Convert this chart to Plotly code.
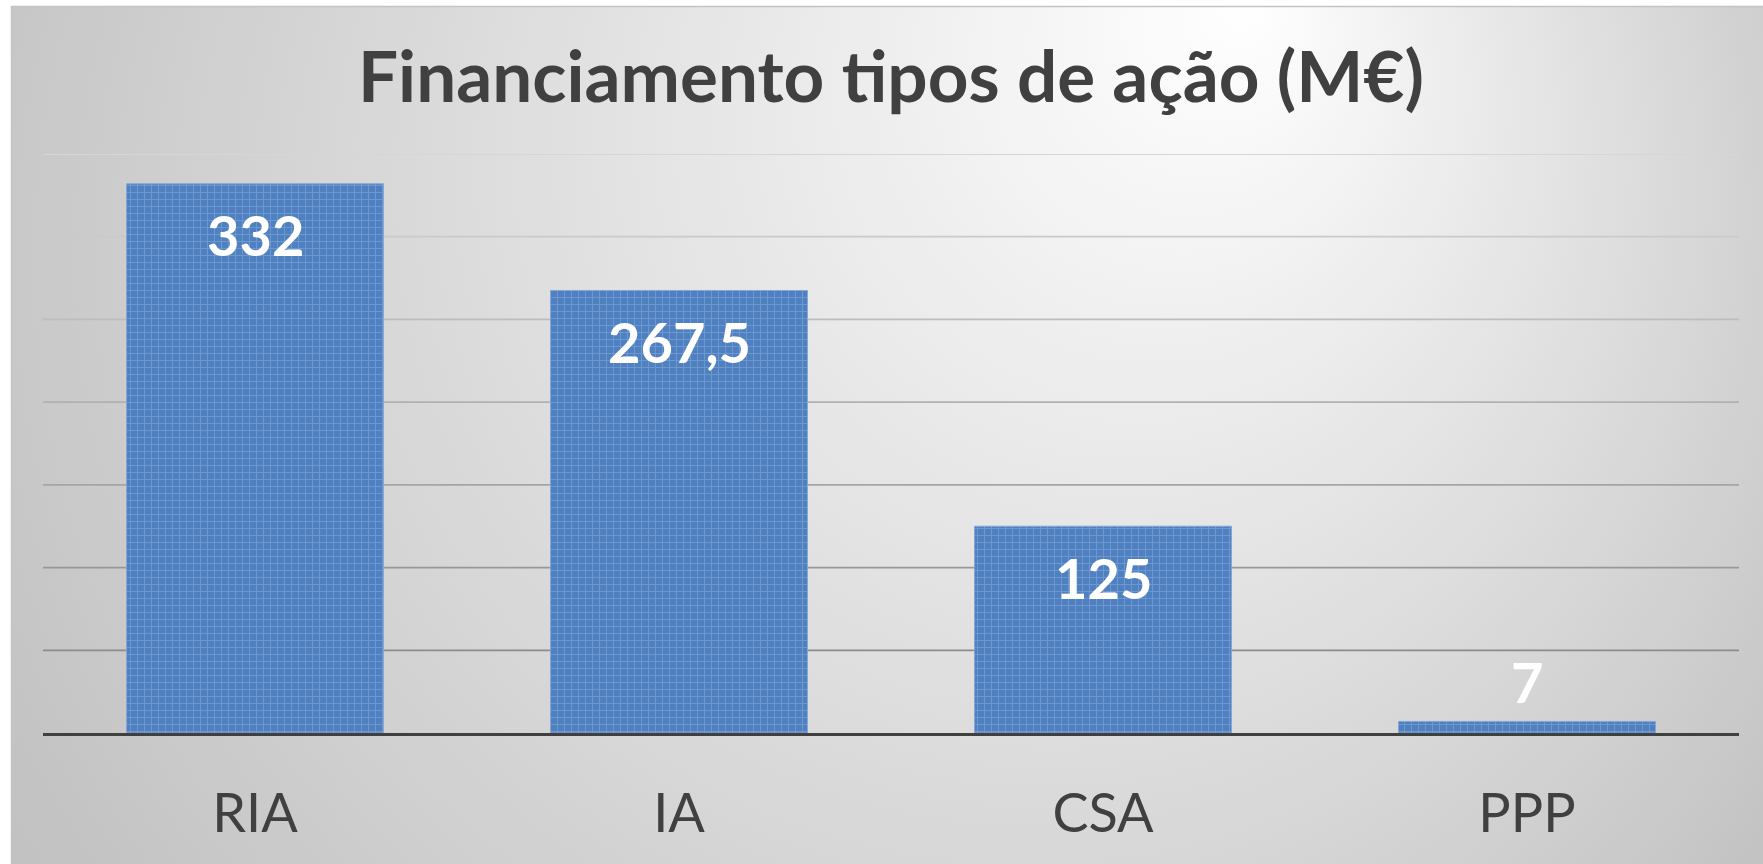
import base64
import plotly.graph_objects as go

# ---- data ----
categories = ["RIA", "IA", "CSA", "PPP"]
values = [332, 267.5, 125, 7]
value_labels = ["332", "267,5", "125", "7"]
title_text = "Financiamento tipos de ação (M€)"
y_range = [0, 350]
y_dtick = 50

W, H = 1763, 864
M_L, M_R, M_T, M_B = 43, 24, 154, 131
FONT = "Lato"
DARK = "#404040"

# ---- background (gradient chart area) as an SVG image ----
svg = f'''<svg xmlns="http://www.w3.org/2000/svg" width="{W}" height="{H}" viewBox="0 0 {W} {H}" preserveAspectRatio="none">
<defs><radialGradient id="g" gradientUnits="userSpaceOnUse" cx="900" cy="300" r="1050" fx="1250" fy="0">
<stop offset="0" stop-color="#ffffff"/><stop offset="0.25" stop-color="#efefef"/><stop offset="1" stop-color="#c1c1c1"/>
</radialGradient></defs>
<rect x="0" y="0" width="{W}" height="{H}" fill="#ffffff"/>
<rect x="11.5" y="6.5" width="{W}" height="{H}" fill="url(#g)" stroke="#c4c4c4" stroke-width="1.5"/>
</svg>'''
svg_uri = "data:image/svg+xml;base64," + base64.b64encode(svg.encode()).decode()

plot_w = W - M_L - M_R
plot_h = H - M_T - M_B

fig = go.Figure()
fig.add_trace(go.Bar(
    x=categories, y=values,
    marker=dict(
        color="#4f80bf",
        line=dict(color="#86a6d6", width=1),
        pattern=dict(shape="+", fgcolor="#8fb1df", size=7, solidity=0.25, fillmode="overlay"),
    ),
    width=0.606,
    hoverinfo="skip",
    showlegend=False,
))

# gridlines with colour fading from light (top) to darker (bottom)
grid_vals = list(range(y_dtick, y_range[1] + 1, y_dtick))
top_c, bot_c = (0xd6, 0xd6, 0xd6), (0x8c, 0x8c, 0x8c)
n = len(grid_vals)
for i, gv in enumerate(grid_vals):
    t = i / (n - 1)  # 0 at bottom-most gridline, 1 at top
    c = tuple(round(bot_c[k] + (top_c[k] - bot_c[k]) * t) for k in range(3))
    fig.add_shape(type="line", xref="paper", yref="y", x0=0, x1=1, y0=gv, y1=gv,
                  line=dict(color="rgb(%d,%d,%d)" % c, width=1.8), layer="below")

# value labels
for cat, v, lab in zip(categories, values, value_labels):
    inside = v > 50
    fig.add_annotation(
        x=cat, y=v, text=lab, showarrow=False,
        yanchor="middle", yshift=-51 if inside else 40,
        font=dict(family=FONT, size=56, color="#ffffff", weight="bold"),
    )

fig.update_layout(
    width=W, height=H,
    margin=dict(l=M_L, r=M_R, t=M_T, b=M_B, pad=0, autoexpand=False),
    paper_bgcolor="#ffffff",
    plot_bgcolor="rgba(0,0,0,0)",
    title=dict(
        text=title_text, x=0.5, xref="paper", xanchor="center",
        y=1 - 77 / H, yref="container", yanchor="middle",
        font=dict(family=FONT, size=71, color=DARK, weight="bold"),
    ),
    bargap=0.394,
    images=[dict(source=svg_uri, xref="paper", yref="paper",
                 x=-M_L / plot_w, y=1 + M_T / plot_h,
                 sizex=W / plot_w, sizey=H / plot_h,
                 xanchor="left", yanchor="top", sizing="stretch", layer="below")],
    xaxis=dict(
        showgrid=False, showline=True, linecolor=DARK, linewidth=3,
        ticks="", tickfont=dict(family=FONT, size=54, color=DARK),
        ticklabelstandoff=31, automargin=False, fixedrange=True,
    ),
    yaxis=dict(
        range=y_range, dtick=y_dtick, showgrid=False, zeroline=False,
        showticklabels=False, automargin=False, fixedrange=True,
    ),
)

fig.write_html("out.html", config={"displayModeBar": False},
               post_script="document.body.style.margin='0';document.body.style.overflow='hidden';")
